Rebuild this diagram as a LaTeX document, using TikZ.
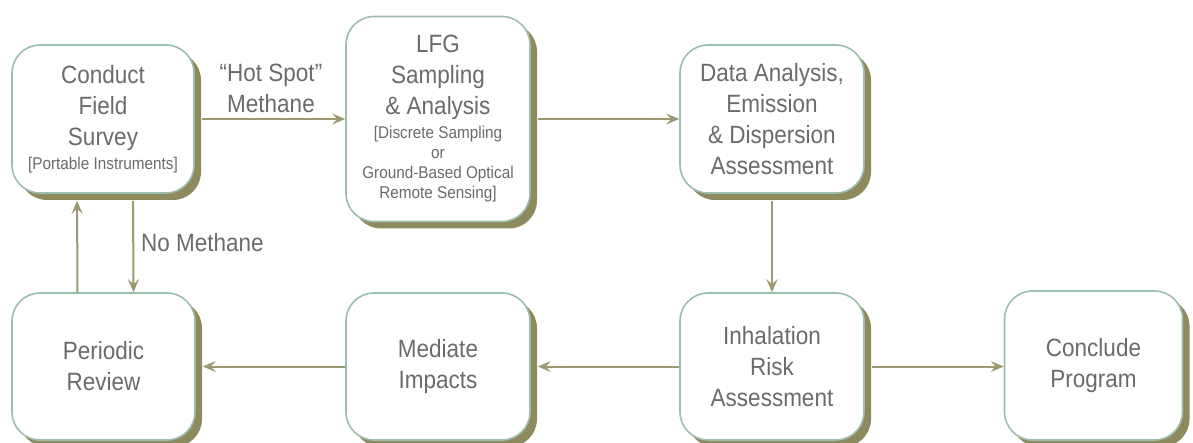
\documentclass[tikz,border=0pt]{standalone}
\usepackage{fontspec}
\setmainfont{Liberation Sans}[FakeStretch=0.9]
\usetikzlibrary{arrows.meta,shadows,calc}
\definecolor{txt}{HTML}{6B6B6B}
\definecolor{bord}{HTML}{9DBDAE}
\definecolor{shad}{HTML}{8E8A5E}
\definecolor{linec}{HTML}{9C9872}
\newcommand\bigf{\fontsize{25}{31}\selectfont}
\newcommand\smf{\fontsize{17}{20}\selectfont}
\begin{document}
\begin{tikzpicture}[x=1pt,y=-1pt,
  box/.style={draw=bord, line width=1.6pt, fill=white, rounded corners=28pt,
    inner sep=0pt, text=txt, align=flush center, text width=178pt, font=\bigf,
    general shadow={fill=shad, shadow xshift=7pt, shadow yshift=-7pt}},
  lbl/.style={text=txt, align=center, inner sep=0pt, font=\bigf},
  arr/.style={draw=linec, line width=2pt, -{Stealth[length=13pt,width=11pt,inset=5pt]}}]
\useasboundingbox (0,0) rectangle (1193,443);
\node[box, minimum width=182pt, minimum height=148pt] (survey) at (103,119)
  {Conduct\\Field\\Survey\par\vspace{4pt}\smf [Portable Instruments]\par};
\node[box, minimum width=184pt, minimum height=205pt] (lfg) at (438,119)
  {LFG\\Sampling\\\& Analysis\par\vspace{4pt}\smf [Discrete Sampling\\or\\Ground-Based Optical\\Remote Sensing]\par};
\node[box, minimum width=184pt, minimum height=148pt] (data) at (772,119)
  {Data Analysis,\\Emission\\\& Dispersion\\Assessment};
\node[box, minimum width=183pt, minimum height=147pt] (periodic) at (103.5,366.5)
  {Periodic\\Review};
\node[box, minimum width=184pt, minimum height=147pt] (mediate) at (438,366.5)
  {Mediate\\Impacts};
\node[box, minimum width=184pt, minimum height=147pt] (inhal) at (772,366.5)
  {Inhalation\\Risk\\Assessment};
\node[box, minimum width=173pt, minimum height=149pt] (conclude) at (1093.5,365.5)
  {Conclude\\Program};
\node[lbl] (hot) at (271,88) {“Hot Spot”\\Methane};
\node[lbl, anchor=west] (nometh) at (141,243) {No Methane};
\draw[arr, shorten <=7pt] (survey.east) -- (lfg.west);
\draw[arr, shorten <=7pt] (lfg.east) -- (data.west);
\draw[arr, shorten <=7pt] (data.south) -- (inhal.north);
\draw[arr, shorten >=7pt] (inhal.west) -- (mediate.east);
\draw[arr, shorten >=7pt] (mediate.west) -- (periodic.east);
\draw[arr, shorten <=7pt] (inhal.east) -- (conclude.west |- inhal.east);
\draw[arr, shorten >=7pt] ([xshift=-26pt]periodic.north) -- ([xshift=-26pt]survey.south);
\draw[arr, shorten <=7pt] ([xshift=30pt]survey.south) -- ([xshift=30pt]periodic.north);
\end{tikzpicture}
\end{document}
